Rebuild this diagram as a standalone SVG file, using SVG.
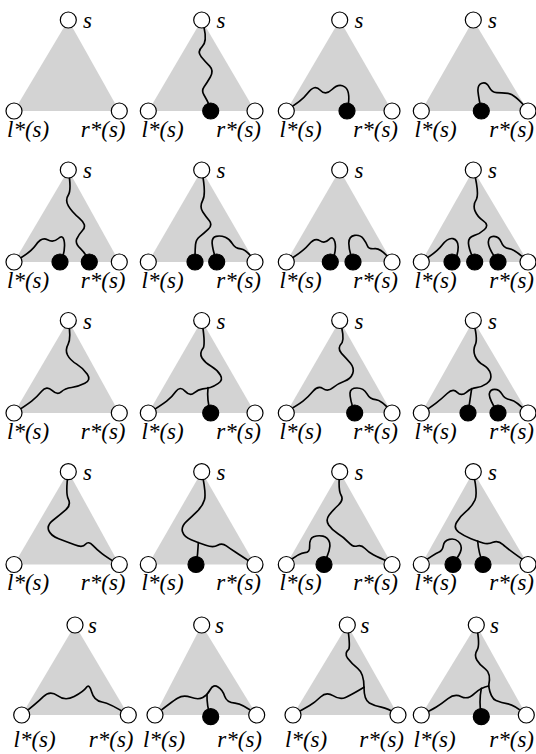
<svg xmlns="http://www.w3.org/2000/svg" width="536" height="754" viewBox="0 0 536 754">
<style>
.tri{fill:#d3d3d3;stroke:none}
.w{fill:none;stroke:#000;stroke-width:5;stroke-linecap:round;stroke-linejoin:round}
.o{fill:#fff;stroke:#000;stroke-width:1.2}
.f{fill:#000;stroke:#000;stroke-width:1.2}
</style>
<rect width="536" height="754" fill="#fff"/>
<g id="triangles">
<polygon class="tri" points="68.3,20 14,111 119.3,111"/>
<polygon class="tri" points="201.7,20 148.3,111 255,111"/>
<polygon class="tri" points="339.7,20 286.3,111 392,111"/>
<polygon class="tri" points="473.3,20 421.3,111 528,111"/>
<polygon class="tri" points="68.3,170 14,262 119.3,262"/>
<polygon class="tri" points="201.7,170 148.3,262 255,262"/>
<polygon class="tri" points="339.7,170 286.3,262 392,262"/>
<polygon class="tri" points="473.3,170 421.3,262 528,262"/>
<polygon class="tri" points="68.3,320.5 14,413 119.3,413"/>
<polygon class="tri" points="201.7,320.5 148.3,413 255,413"/>
<polygon class="tri" points="339.7,320.5 286.3,413 392,413"/>
<polygon class="tri" points="473.3,320.5 421.3,413 528,413"/>
<polygon class="tri" points="68.3,471.7 14,564.5 119.3,564.5"/>
<polygon class="tri" points="201.7,471.7 148.3,564.5 255,564.5"/>
<polygon class="tri" points="339.7,471.7 286.3,564.5 392,564.5"/>
<polygon class="tri" points="473.3,471.7 421.3,564.5 528,564.5"/>
<polygon class="tri" points="75,625 21.7,715 128.3,715"/>
<polygon class="tri" points="201.7,625 155,715 256.7,715"/>
<polygon class="tri" points="347.3,625 293,715 398,715"/>
<polygon class="tri" points="476.3,625 421.3,715 526.3,715"/>
</g>
<g id="connectors">
<g transform="translate(0,0) scale(0.33333)">
<path class="w" d="M612,82 Q622,125 606.5,140 Q591,155 603.5,170 Q616,185 629,198.5 Q642,212 631,231 Q620,250 612,261 Q604,272 612,285 Q620,298 630,320"/>
</g>
<g transform="translate(268,0) scale(0.33333)">
<path class="w" d="M55,330 Q100,305 120,278.5 Q140,252 156,270 Q172,288 192,268.5 Q212,249 230,260.5 Q248,272 240,320"/>
<path class="w" d="M640,330 Q632,295 630,275 Q628,255 641.5,250 Q655,245 663.5,261.5 Q672,278 686,278 Q700,278 720,280 Q740,282 780,330"/>
</g>
<g transform="translate(0,150) scale(0.33333)">
<path class="w" d="M42,335 Q90,310 107.5,285 Q125,260 142.5,269.5 Q160,279 175,265.5 Q190,252 193,276 Q196,300 185,330"/>
<path class="w" d="M205,60 Q215,120 205,135 Q195,150 205,167.5 Q215,185 238.5,205 Q262,225 248.5,240 Q235,255 230,267.5 Q225,280 241.5,296 Q258,312 268,335"/>
<path class="w" d="M605,60 Q619,130 608.5,150 Q598,170 608,185 Q618,200 628,212.5 Q638,225 625,237.5 Q612,250 600,259 Q588,268 586.5,284 Q585,300 585,335"/>
<path class="w" d="M650,335 Q638,300 636.5,281 Q635,262 648.5,259 Q662,256 676,262 Q690,268 697.5,281.5 Q705,295 722.5,296.5 Q740,298 765,335"/>
</g>
<g transform="translate(268,150) scale(0.33333)">
<path class="w" d="M55,335 Q105,305 122.5,283.5 Q140,262 155,272 Q170,282 182.5,269 Q195,256 200.5,275.5 Q206,295 195,330"/>
<path class="w" d="M255,335 Q242,300 242.5,279 Q243,258 260,256 Q277,254 286,266 Q295,278 298.5,288 Q302,298 321,296 Q340,294 372,335"/>
<path class="w" d="M460,335 Q505,308 522.5,285 Q540,262 555,266 Q570,270 570.5,290 Q571,310 560,335"/>
<path class="w" d="M617,60 Q634,130 625.5,147.5 Q614,165 621,182.5 Q628,200 646,212.5 Q664,225 649.5,238.5 Q635,252 617.5,257 Q600,262 601.5,281 Q603,300 620,335"/>
<path class="w" d="M690,335 Q660,295 661,276.5 Q662,258 678,259 Q694,260 700,277 Q706,294 723,296 Q740,298 780,335"/>
</g>
<g transform="translate(0,300) scale(0.33333)">
<path class="w" d="M205,60 Q214,115 204.5,132.5 Q195,150 202.5,165 Q210,180 230,192.5 Q250,205 262,222.5 Q274,240 254.5,250 Q235,260 215,262.5 Q195,265 183.5,275.5 Q172,286 156,271 Q140,256 125,274 Q110,292 95,303.5 Q80,315 42,340"/>
<path class="w" d="M605,60 Q616,125 610.5,142.5 Q597,160 606,174 Q615,188 633.5,199 Q652,210 661,225 Q670,240 655,250 Q640,260 631,262.5 Q622,265 608.5,266.5 Q595,268 582.5,279 Q570,290 555,273.5 Q540,257 527.5,274.5 Q515,292 500,303.5 Q485,315 445,340"/>
<path class="w" d="M624,263 Q620,300 632,340"/>
</g>
<g transform="translate(268,300) scale(0.33333)">
<path class="w" d="M215,60 Q230,110 222.5,127.5 Q206,145 220.5,160 Q235,175 247.5,190 Q260,205 254,221 Q248,237 229,243.5 Q210,250 195,263 Q180,276 165,266 Q150,256 135,274 Q120,292 105,303.5 Q90,315 55,335"/>
<path class="w" d="M260,340 Q245,295 246,279.5 Q247,264 267,264 Q287,264 296.5,281 Q306,298 323,299 Q340,300 370,335"/>
<path class="w" d="M615,60 Q630,115 622.5,132.5 Q614,150 621,167.5 Q628,185 646,195 Q664,205 668,222.5 Q672,240 656,251 Q640,262 625,263 Q610,264 595,277 Q580,290 567.5,277 Q555,264 537.5,280.5 Q520,297 505,308.5 Q490,320 460,340"/>
<path class="w" d="M611,266 Q606,300 600,340"/>
<path class="w" d="M690,340 Q662,295 664,281.5 Q666,268 680,268 Q694,268 702,282.5 Q710,297 727.5,299.5 Q745,302 780,340"/>
</g>
<g transform="translate(0,450) scale(0.33333)">
<path class="w" d="M205,65 Q196,130 205,147.5 Q214,165 197,180 Q180,195 160,210 Q140,225 146,241 Q152,257 176,266 Q200,275 224,284.5 Q248,294 256.5,283 Q265,272 278.5,286 Q292,300 306,311 Q320,322 358,345"/>
<path class="w" d="M605,65 Q619,130 613.5,149 Q608,168 591.5,184 Q575,200 559,215 Q543,230 547.5,245 Q552,260 573.5,269 Q595,278 617.5,286 Q640,294 653,286 Q666,278 679,287.5 Q692,297 706,306 Q720,315 765,345"/>
<path class="w" d="M595,278 Q594,310 588,345"/>
</g>
<g transform="translate(268,450) scale(0.33333)">
<path class="w" d="M215,65 Q210,120 219,135 Q228,150 211.5,165 Q195,180 183.5,195 Q172,210 182,225 Q192,240 210,251 Q228,262 241.5,277 Q255,292 267.5,288 Q280,284 291,295.5 Q302,307 316,314.5 Q330,322 372,340"/>
<path class="w" d="M55,340 Q95,308 110.5,308 Q126,308 125,287 Q124,266 137,260.5 Q150,255 165,258.5 Q180,262 185,278.5 Q190,295 168,340"/>
<path class="w" d="M615,65 Q630,130 621,150 Q612,170 593.5,185 Q575,200 565.5,217.5 Q556,235 572,246.5 Q588,258 609,266 Q630,274 645,279 Q660,284 675,277 Q690,270 705,284 Q720,298 780,340"/>
<path class="w" d="M629,273 Q632,310 645,340"/>
<path class="w" d="M460,340 Q500,312 512,307 Q524,302 526,287 Q528,272 544,268 Q560,264 571,274.5 Q582,285 579,300 Q576,315 555,340"/>
</g>
<g transform="translate(0,600) scale(0.33333)">
<path class="w" d="M65,345 Q110,310 130,290 Q150,270 172.5,287 Q195,304 222.5,289.5 Q250,275 259,262.5 Q268,250 275,276 Q282,302 306,306 Q330,310 385,345"/>
<path class="w" d="M465,345 Q515,305 532.5,294.5 Q550,284 572.5,292 Q595,300 608.5,292.5 Q622,285 631,268.5 Q640,252 654,261 Q668,270 674,288.5 Q680,307 705,309.5 Q730,312 770,345"/>
<path class="w" d="M621,283 Q620,320 632,350"/>
</g>
<g transform="translate(268,600) scale(0.33333)">
<path class="w" d="M238,75 Q247,135 242.5,147.5 Q228,160 239,175 Q250,190 269,205 Q288,220 288,262"/>
<path class="w" d="M288,262 Q250,285 232.5,292.5 Q215,300 195,287 Q175,274 157.5,291 Q140,308 125,316.5 Q110,325 75,345"/>
<path class="w" d="M288,262 Q288,300 304,309 Q320,318 340,321.5 Q360,325 390,345"/>
<path class="w" d="M625,75 Q637,135 627.5,150 Q618,165 626.5,180 Q635,195 652.5,207.5 Q670,220 662,258"/>
<path class="w" d="M662,258 Q640,262 620,280 Q600,300 580,290 Q560,280 540,296 Q520,312 505,321 Q490,330 460,345"/>
<path class="w" d="M640,265 Q632,305 640,350"/>
<path class="w" d="M662,258 Q668,295 684,301.5 Q700,308 720,311.5 Q740,315 775,345"/>
</g>
</g>
<g id="nodes">
<g id="r1c1-s"><circle class="o" cx="68.3" cy="20" r="8"/><text x="83" y="28" font-size="23" font-family="Times New Roman" font-style="italic">s</text></g>
<g id="r1c1-l"><circle class="o" cx="14" cy="111" r="8"/><text x="7" y="136.5" font-size="23" font-family="Times New Roman" font-style="italic">l*(s)</text></g>
<g id="r1c1-r"><circle class="o" cx="119.3" cy="111" r="8"/><text x="125.5" y="136.5" text-anchor="end" font-size="23" font-family="Times New Roman" font-style="italic">r*(s)</text></g>
<g id="r1c2-s"><circle class="o" cx="201.7" cy="20" r="8"/><text x="216.5" y="28" font-size="23" font-family="Times New Roman" font-style="italic">s</text></g>
<g id="r1c2-l"><circle class="o" cx="148.3" cy="111" r="8"/><text x="141.5" y="136.5" font-size="23" font-family="Times New Roman" font-style="italic">l*(s)</text></g>
<g id="r1c2-r"><circle class="o" cx="255" cy="111" r="8"/><text x="261" y="136.5" text-anchor="end" font-size="23" font-family="Times New Roman" font-style="italic">r*(s)</text></g>
<g id="r1c2-b1"><circle class="f" cx="210.7" cy="111" r="8"/></g>
<g id="r1c3-s"><circle class="o" cx="339.7" cy="20" r="8"/><text x="354.5" y="28" font-size="23" font-family="Times New Roman" font-style="italic">s</text></g>
<g id="r1c3-l"><circle class="o" cx="286.3" cy="111" r="8"/><text x="279.5" y="136.5" font-size="23" font-family="Times New Roman" font-style="italic">l*(s)</text></g>
<g id="r1c3-r"><circle class="o" cx="392" cy="111" r="8"/><text x="398" y="136.5" text-anchor="end" font-size="23" font-family="Times New Roman" font-style="italic">r*(s)</text></g>
<g id="r1c3-b1"><circle class="f" cx="347" cy="111" r="8"/></g>
<g id="r1c4-s"><circle class="o" cx="473.3" cy="20" r="8"/><text x="488" y="28" font-size="23" font-family="Times New Roman" font-style="italic">s</text></g>
<g id="r1c4-l"><circle class="o" cx="421.3" cy="111" r="8"/><text x="414.5" y="136.5" font-size="23" font-family="Times New Roman" font-style="italic">l*(s)</text></g>
<g id="r1c4-r"><circle class="o" cx="528" cy="111" r="8"/><text x="534" y="136.5" text-anchor="end" font-size="23" font-family="Times New Roman" font-style="italic">r*(s)</text></g>
<g id="r1c4-b1"><circle class="f" cx="481.3" cy="111" r="8"/></g>
<g id="r2c1-s"><circle class="o" cx="68.3" cy="170" r="8"/><text x="83" y="178" font-size="23" font-family="Times New Roman" font-style="italic">s</text></g>
<g id="r2c1-l"><circle class="o" cx="14" cy="262" r="8"/><text x="7" y="287.5" font-size="23" font-family="Times New Roman" font-style="italic">l*(s)</text></g>
<g id="r2c1-r"><circle class="o" cx="119.3" cy="262" r="8"/><text x="125.5" y="287.5" text-anchor="end" font-size="23" font-family="Times New Roman" font-style="italic">r*(s)</text></g>
<g id="r2c1-b1"><circle class="f" cx="60" cy="262" r="8"/></g>
<g id="r2c1-b2"><circle class="f" cx="89.3" cy="262" r="8"/></g>
<g id="r2c2-s"><circle class="o" cx="201.7" cy="170" r="8"/><text x="216.5" y="178" font-size="23" font-family="Times New Roman" font-style="italic">s</text></g>
<g id="r2c2-l"><circle class="o" cx="148.3" cy="262" r="8"/><text x="141.5" y="287.5" font-size="23" font-family="Times New Roman" font-style="italic">l*(s)</text></g>
<g id="r2c2-r"><circle class="o" cx="255" cy="262" r="8"/><text x="261" y="287.5" text-anchor="end" font-size="23" font-family="Times New Roman" font-style="italic">r*(s)</text></g>
<g id="r2c2-b1"><circle class="f" cx="195" cy="262" r="8"/></g>
<g id="r2c2-b2"><circle class="f" cx="216.7" cy="262" r="8"/></g>
<g id="r2c3-s"><circle class="o" cx="339.7" cy="170" r="8"/><text x="354.5" y="178" font-size="23" font-family="Times New Roman" font-style="italic">s</text></g>
<g id="r2c3-l"><circle class="o" cx="286.3" cy="262" r="8"/><text x="279.5" y="287.5" font-size="23" font-family="Times New Roman" font-style="italic">l*(s)</text></g>
<g id="r2c3-r"><circle class="o" cx="392" cy="262" r="8"/><text x="398" y="287.5" text-anchor="end" font-size="23" font-family="Times New Roman" font-style="italic">r*(s)</text></g>
<g id="r2c3-b1"><circle class="f" cx="330.3" cy="262" r="8"/></g>
<g id="r2c3-b2"><circle class="f" cx="353" cy="262" r="8"/></g>
<g id="r2c4-s"><circle class="o" cx="473.3" cy="170" r="8"/><text x="488" y="178" font-size="23" font-family="Times New Roman" font-style="italic">s</text></g>
<g id="r2c4-l"><circle class="o" cx="421.3" cy="262" r="8"/><text x="414.5" y="287.5" font-size="23" font-family="Times New Roman" font-style="italic">l*(s)</text></g>
<g id="r2c4-r"><circle class="o" cx="528" cy="262" r="8"/><text x="534" y="287.5" text-anchor="end" font-size="23" font-family="Times New Roman" font-style="italic">r*(s)</text></g>
<g id="r2c4-b1"><circle class="f" cx="452" cy="262" r="8"/></g>
<g id="r2c4-b2"><circle class="f" cx="474.7" cy="262" r="8"/></g>
<g id="r2c4-b3"><circle class="f" cx="498" cy="262" r="8"/></g>
<g id="r3c1-s"><circle class="o" cx="68.3" cy="320.5" r="8"/><text x="83" y="328.5" font-size="23" font-family="Times New Roman" font-style="italic">s</text></g>
<g id="r3c1-l"><circle class="o" cx="14" cy="413" r="8"/><text x="7" y="438.5" font-size="23" font-family="Times New Roman" font-style="italic">l*(s)</text></g>
<g id="r3c1-r"><circle class="o" cx="119.3" cy="413" r="8"/><text x="125.5" y="438.5" text-anchor="end" font-size="23" font-family="Times New Roman" font-style="italic">r*(s)</text></g>
<g id="r3c2-s"><circle class="o" cx="201.7" cy="320.5" r="8"/><text x="216.5" y="328.5" font-size="23" font-family="Times New Roman" font-style="italic">s</text></g>
<g id="r3c2-l"><circle class="o" cx="148.3" cy="413" r="8"/><text x="141.5" y="438.5" font-size="23" font-family="Times New Roman" font-style="italic">l*(s)</text></g>
<g id="r3c2-r"><circle class="o" cx="255" cy="413" r="8"/><text x="261" y="438.5" text-anchor="end" font-size="23" font-family="Times New Roman" font-style="italic">r*(s)</text></g>
<g id="r3c2-b1"><circle class="f" cx="210.7" cy="413" r="8"/></g>
<g id="r3c3-s"><circle class="o" cx="339.7" cy="320.5" r="8"/><text x="354.5" y="328.5" font-size="23" font-family="Times New Roman" font-style="italic">s</text></g>
<g id="r3c3-l"><circle class="o" cx="286.3" cy="413" r="8"/><text x="279.5" y="438.5" font-size="23" font-family="Times New Roman" font-style="italic">l*(s)</text></g>
<g id="r3c3-r"><circle class="o" cx="392" cy="413" r="8"/><text x="398" y="438.5" text-anchor="end" font-size="23" font-family="Times New Roman" font-style="italic">r*(s)</text></g>
<g id="r3c3-b1"><circle class="f" cx="354.7" cy="413" r="8"/></g>
<g id="r3c4-s"><circle class="o" cx="473.3" cy="320.5" r="8"/><text x="488" y="328.5" font-size="23" font-family="Times New Roman" font-style="italic">s</text></g>
<g id="r3c4-l"><circle class="o" cx="421.3" cy="413" r="8"/><text x="414.5" y="438.5" font-size="23" font-family="Times New Roman" font-style="italic">l*(s)</text></g>
<g id="r3c4-r"><circle class="o" cx="528" cy="413" r="8"/><text x="534" y="438.5" text-anchor="end" font-size="23" font-family="Times New Roman" font-style="italic">r*(s)</text></g>
<g id="r3c4-b1"><circle class="f" cx="468" cy="413" r="8"/></g>
<g id="r3c4-b2"><circle class="f" cx="498" cy="413" r="8"/></g>
<g id="r4c1-s"><circle class="o" cx="68.3" cy="471.7" r="8"/><text x="83" y="479.7" font-size="23" font-family="Times New Roman" font-style="italic">s</text></g>
<g id="r4c1-l"><circle class="o" cx="14" cy="564.5" r="8"/><text x="7" y="589.5" font-size="23" font-family="Times New Roman" font-style="italic">l*(s)</text></g>
<g id="r4c1-r"><circle class="o" cx="119.3" cy="564.5" r="8"/><text x="125.5" y="589.5" text-anchor="end" font-size="23" font-family="Times New Roman" font-style="italic">r*(s)</text></g>
<g id="r4c2-s"><circle class="o" cx="201.7" cy="471.7" r="8"/><text x="216.5" y="479.7" font-size="23" font-family="Times New Roman" font-style="italic">s</text></g>
<g id="r4c2-l"><circle class="o" cx="148.3" cy="564.5" r="8"/><text x="141.5" y="589.5" font-size="23" font-family="Times New Roman" font-style="italic">l*(s)</text></g>
<g id="r4c2-r"><circle class="o" cx="255" cy="564.5" r="8"/><text x="261" y="589.5" text-anchor="end" font-size="23" font-family="Times New Roman" font-style="italic">r*(s)</text></g>
<g id="r4c2-b1"><circle class="f" cx="196" cy="564.5" r="8"/></g>
<g id="r4c3-s"><circle class="o" cx="339.7" cy="471.7" r="8"/><text x="354.5" y="479.7" font-size="23" font-family="Times New Roman" font-style="italic">s</text></g>
<g id="r4c3-l"><circle class="o" cx="286.3" cy="564.5" r="8"/><text x="279.5" y="589.5" font-size="23" font-family="Times New Roman" font-style="italic">l*(s)</text></g>
<g id="r4c3-r"><circle class="o" cx="392" cy="564.5" r="8"/><text x="398" y="589.5" text-anchor="end" font-size="23" font-family="Times New Roman" font-style="italic">r*(s)</text></g>
<g id="r4c3-b1"><circle class="f" cx="324" cy="564.5" r="8"/></g>
<g id="r4c4-s"><circle class="o" cx="473.3" cy="471.7" r="8"/><text x="488" y="479.7" font-size="23" font-family="Times New Roman" font-style="italic">s</text></g>
<g id="r4c4-l"><circle class="o" cx="421.3" cy="564.5" r="8"/><text x="414.5" y="589.5" font-size="23" font-family="Times New Roman" font-style="italic">l*(s)</text></g>
<g id="r4c4-r"><circle class="o" cx="528" cy="564.5" r="8"/><text x="534" y="589.5" text-anchor="end" font-size="23" font-family="Times New Roman" font-style="italic">r*(s)</text></g>
<g id="r4c4-b1"><circle class="f" cx="453" cy="564.5" r="8"/></g>
<g id="r4c4-b2"><circle class="f" cx="483" cy="564.5" r="8"/></g>
<g id="r5c1-s"><circle class="o" cx="75" cy="625" r="8"/><text x="88" y="633" font-size="23" font-family="Times New Roman" font-style="italic">s</text></g>
<g id="r5c1-l"><circle class="o" cx="21.7" cy="715" r="8"/><text x="13.5" y="747" font-size="23" font-family="Times New Roman" font-style="italic">l*(s)</text></g>
<g id="r5c1-r"><circle class="o" cx="128.3" cy="715" r="8"/><text x="133.5" y="747" text-anchor="end" font-size="23" font-family="Times New Roman" font-style="italic">r*(s)</text></g>
<g id="r5c2-s"><circle class="o" cx="201.7" cy="625" r="8"/><text x="215" y="633" font-size="23" font-family="Times New Roman" font-style="italic">s</text></g>
<g id="r5c2-l"><circle class="o" cx="155" cy="715" r="8"/><text x="143" y="747" font-size="23" font-family="Times New Roman" font-style="italic">l*(s)</text></g>
<g id="r5c2-r"><circle class="o" cx="256.7" cy="715" r="8"/><text x="262" y="747" text-anchor="end" font-size="23" font-family="Times New Roman" font-style="italic">r*(s)</text></g>
<g id="r5c2-b1"><circle class="f" cx="210.7" cy="716.7" r="8"/></g>
<g id="r5c3-s"><circle class="o" cx="347.3" cy="625" r="8"/><text x="360.5" y="633" font-size="23" font-family="Times New Roman" font-style="italic">s</text></g>
<g id="r5c3-l"><circle class="o" cx="293" cy="715" r="8"/><text x="285" y="747" font-size="23" font-family="Times New Roman" font-style="italic">l*(s)</text></g>
<g id="r5c3-r"><circle class="o" cx="398" cy="715" r="8"/><text x="404" y="747" text-anchor="end" font-size="23" font-family="Times New Roman" font-style="italic">r*(s)</text></g>
<g id="r5c4-s"><circle class="o" cx="476.3" cy="625" r="8"/><text x="490" y="633" font-size="23" font-family="Times New Roman" font-style="italic">s</text></g>
<g id="r5c4-l"><circle class="o" cx="421.3" cy="715" r="8"/><text x="413.5" y="747" font-size="23" font-family="Times New Roman" font-style="italic">l*(s)</text></g>
<g id="r5c4-r"><circle class="o" cx="526.3" cy="715" r="8"/><text x="534" y="747" text-anchor="end" font-size="23" font-family="Times New Roman" font-style="italic">r*(s)</text></g>
<g id="r5c4-b1"><circle class="f" cx="481.3" cy="716.7" r="8"/></g>
</g>
</svg>
